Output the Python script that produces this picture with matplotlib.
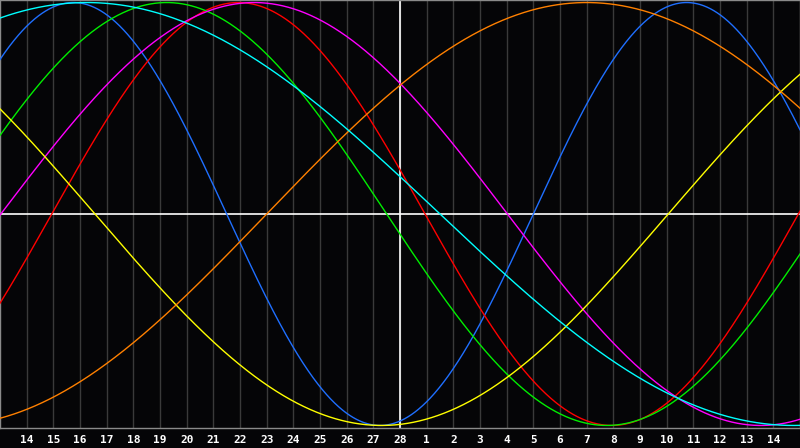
import numpy as np
import matplotlib
matplotlib.use('Agg')
import matplotlib.pyplot as plt

# Biorhythm chart, 30 days shown, today (28) in the middle #

# day labels under the grid lines (Feb 14..28, Mar 1..14)
day_labels = [14, 15, 16, 17, 18, 19, 20, 21, 22, 23, 24, 25, 26, 27, 28,
              1, 2, 3, 4, 5, 6, 7, 8, 9, 10, 11, 12, 13, 14]
today_pos = 15

# cycle lengths (days) and the chart day where each cycle crosses zero going up
cycle_names = ['physical', 'emotional', 'intellectual', 'intuitive',
               'aesthetic', 'awareness', 'spiritual']
cycle_days = [23, 28, 33, 38, 43, 48, 53]
zero_up_day = [20.0, 1.94, -2.0, 0.03, 25.06, 10.0, -10.0]
cycle_colors = ['#1f6fff', '#ff0000', '#00ee00', '#ff00ff',
                '#ffff00', '#ff8000', '#00ffff']

bg = '#050507'
n_days = len(day_labels) + 1

fig = plt.figure(figsize=(8.0, 4.48), dpi=100, facecolor=bg)
ax = fig.add_axes([0, 20 / 448, 1, 428 / 448])
ax.set_facecolor(bg)

# vertical day grid
for k in range(1, n_days):
    ax.axvline(k, color='#3a3a3a', lw=1, zorder=1)

# centre cross
ax.axhline(0, color='white', lw=1.2, zorder=2)
ax.axvline(today_pos, color='white', lw=1.2, zorder=2)

t = np.linspace(0, n_days, 1601)
for name, p, z, c in zip(cycle_names, cycle_days, zero_up_day, cycle_colors):
    y = np.sin(2 * np.pi * (t - z) / p)
    ax.plot(t, y, color=c, lw=1, zorder=3, label=name)

ax.set_xlim(0, n_days)
ax.set_ylim(-1.012, 1.012)

ax.set_xticks(range(1, n_days))
ax.set_xticklabels([str(d) for d in day_labels])
ax.tick_params(axis='x', length=0, pad=5, colors='white',
               labelsize=8)
for lab in ax.get_xticklabels():
    lab.set_fontfamily('DejaVu Sans Mono')
    lab.set_fontweight('bold')
ax.set_yticks([])

for s in ax.spines.values():
    s.set_color('#8a8a8a')
    s.set_linewidth(1)

fig.savefig('out.png', dpi=100, facecolor=bg)
